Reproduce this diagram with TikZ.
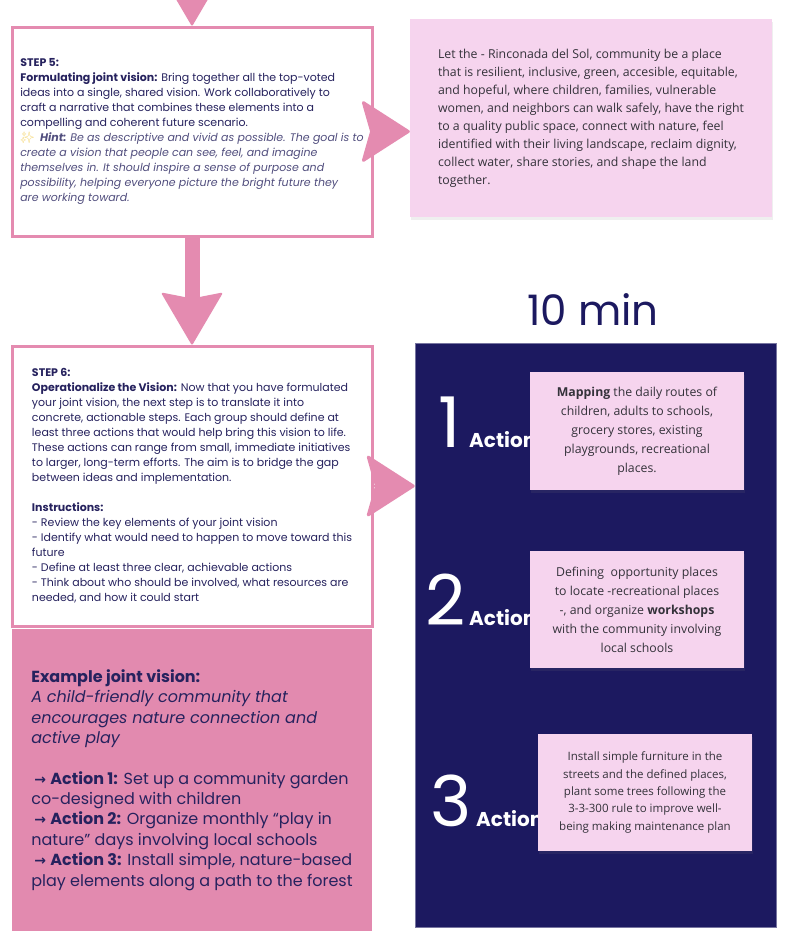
\documentclass[tikz,border=0pt]{standalone}
\usepackage{fontspec}
\setmainfont{Poppins}
\newfontfamily\notefont{Open Sans}
\newfontfamily\symfont{DejaVu Sans}
\newfontfamily\emojifont{Noto Emoji}
\usetikzlibrary{positioning, arrows.meta, shadows}

\definecolor{pinkline}{RGB}{228,139,176}
\definecolor{pinkfill}{RGB}{226,138,175}
\definecolor{stickyfill}{RGB}{246,212,238}
\definecolor{navy}{RGB}{28,25,96}
\definecolor{textnavy}{RGB}{38,34,94}
\definecolor{notegray}{RGB}{52,50,58}
\definecolor{sparkle}{RGB}{244,212,104}

\newcommand{\actarrow}{\hspace{3pt}{\symfont\bfseries\fontsize{14}{20.4}\selectfont →}\ }

\begin{document}
\begin{tikzpicture}[
  x=1pt, y=-1pt,
  stepbox/.style={
    draw=pinkline, fill=white, line width=3pt,
    align=left, text=textnavy, inner sep=0pt,
    font=\fontsize{11}{15}\selectfont
  },
  sticky/.style={
    fill=stickyfill, align=left, text=notegray, inner sep=0pt,
    font=\notefont\fontsize{12.3}{18}\selectfont,
    drop shadow={opacity=0.12, shadow xshift=1pt, shadow yshift=-3pt}
  },
  actionbox/.style={sticky, align=center,
    minimum width=214pt, minimum height=117pt,
    font=\notefont\fontsize{12.3}{19}\selectfont
  },
  bignum/.style={anchor=base west, text=white, inner sep=0pt,
    font=\fontsize{70}{70}\selectfont},
  actlabel/.style={anchor=base west, text=white, inner sep=0pt,
    font=\fontsize{20}{20}\selectfont\bfseries},
  fatarrow/.style={draw=pinkline, line width=15pt,
    -{Stealth[length=53pt, width=62pt, inset=6pt, round, line width=2pt]}},
  sidearrow/.style={draw=pinkline, line width=2pt,
    -{Stealth[length=50pt, width=64pt, inset=9pt, round, line width=3pt]}},
]

\useasboundingbox (0,0) rectangle (792,951);
\fill[white] (0,0) rectangle (792,951);
\clip (0,0) rectangle (792,951);

% STEP 5 box and the vision sticky note
\node[stepbox, minimum width=360pt, minimum height=209pt] (s5) at (192,131.5) {%
  \textbf{STEP 5:}\\
  \textbf{Formulating joint vision:} Bring together all the top-voted\\
  ideas into a single, shared vision. Work collaboratively to\\
  craft a narrative that combines these elements into a\\
  compelling and coherent future scenario.\\
  {\color{textnavy!80}{\emojifont\color{sparkle}✨}\ \ \textbf{\textit{Hint:}} \textit{Be as descriptive and vivid as possible. The goal is to}}\\
  {\color{textnavy!80}\textit{create a vision that people can see, feel, and imagine}}\\
  {\color{textnavy!80}\textit{themselves in. It should inspire a sense of purpose and}}\\
  {\color{textnavy!80}\textit{possibility, helping everyone picture the bright future they}}\\
  {\color{textnavy!80}\textit{are working toward.}}};

\node[sticky, minimum width=362pt, minimum height=198pt] (vision) at (591,118) {%
  Let the - Rinconada del Sol, community be a place\\
  that is resilient, inclusive, green, accesible, equitable,\\
  and hopeful, where children, families, vulnerable\\
  women, and neighbors can walk safely, have the right\\
  to a quality public space, connect with nature, feel\\
  identified with their living landscape, reclaim dignity,\\
  collect water, share stories, and shape the land\\
  together.};

% STEP 6 box with the example below it
\node[fill=pinkfill, minimum width=360pt, minimum height=302pt, inner sep=0pt,
      align=left, text=textnavy, font=\fontsize{16}{20.4}\selectfont] (example) at (192,780) {%
  \textbf{Example joint vision:}\\
  \textit{A child-friendly community that}\\
  \textit{encourages nature connection and}\\
  \textit{active play}\\[20pt]
  \actarrow\textbf{Action 1:} Set up a community garden\\
  co-designed with children\\
  \actarrow\textbf{Action 2:} Organize monthly “play in\\
  nature” days involving local schools\\
  \actarrow\textbf{Action 3:} Install simple, nature-based\\
  play elements along a path to the forest};

\node[stepbox, minimum width=360pt, minimum height=280pt] (s6) at (192,486) {%
  \textbf{STEP 6:}\\
  \textbf{Operationalize the Vision:} Now that you have formulated\\
  your joint vision, the next step is to translate it into\\
  concrete, actionable steps. Each group should define at\\
  least three actions that would help bring this vision to life.\\
  These actions can range from small, immediate initiatives\\
  to larger, long-term efforts. The aim is to bridge the gap\\
  between ideas and implementation.\\[15pt]
  \textbf{Instructions:}\\
  - Review the key elements of your joint vision\\
  - Identify what would need to happen to move toward this\\
  future\\
  - Define at least three clear, achievable actions\\
  - Think about who should be involved, what resources are\\
  needed, and how it could start};

% 10 min panel with the three actions
\node[text=navy, font=\fontsize{42}{42}\selectfont] (timer) at (593,310) {10 min};
\node[fill=navy, draw=navy!60!white, line width=0.6pt,
      minimum width=361pt, minimum height=584pt] (plan) at (595.5,635) {};

\node[bignum] (n1) at (438,447) {1};
\node[actlabel] (a1) at (469,447) {Action};
\node[bignum] (n2) at (425,625) {2};
\node[actlabel] (a2) at (469,625) {Action};
\node[bignum] (n3) at (430,826) {3};
\node[actlabel] (a3) at (476,826) {Action};

\node[actionbox, minimum height=118pt] (b1) at (637,431) {%
  \textbf{Mapping} the daily routes of\\
  children, adults to schools,\\
  grocery stores, existing\\
  playgrounds, recreational\\
  places.};
\node[actionbox] (b2) at (637,609.5) {%
  Defining\ \ opportunity places\\
  to locate -recreational places\\
  -, and organize \textbf{workshops}\\
  with the community involving\\
  local schools};
\node[actionbox, font=\notefont\fontsize{11.5}{17.4}\selectfont] (b3) at (645,792.5) {%
  Install simple furniture in the\\
  streets and the defined places,\\
  plant some trees following the\\
  3-3-300 rule to improve well-\\
  being making maintenance plan};

% flow arrows
\coordinate (above) at (192,-120);
\draw[fatarrow] (above) -- (s5.north);
\draw[fatarrow] (s5.south) -- (s6.north);
\draw[sidearrow] (s5.east) -- (s5.east -| vision.west);
\draw[sidearrow] (s6.east) -- (s6.east -| plan.west);

\end{tikzpicture}
\end{document}
